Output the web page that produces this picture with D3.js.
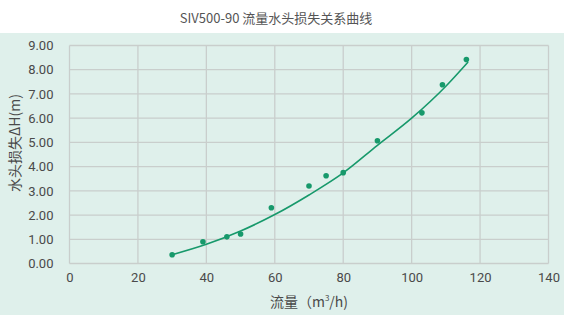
<!DOCTYPE html>
<html>
<head>
  <meta charset="utf-8">
  <script src="https://d3js.org/d3.v7.min.js"></script>
  <style>
    body { margin: 0; background: #ffffff; }
    svg { display: block; }
    .tick text { font-family: Roboto, "Noto Sans", sans-serif; font-size: 13px; fill: #4a4a4a; }
  </style>
</head>
<body>
  <svg id="canvas" width="564" height="315"></svg>
<script>
  // measured points (流量 m3/h, 水头损失 m)
  const flow = [30, 39, 46, 50, 59, 70, 75, 80, 90, 103, 109, 116];
  const headLoss = [0.36, 0.9, 1.1, 1.22, 2.3, 3.2, 3.62, 3.75, 5.07, 6.22, 7.38, 8.42];

  // trend curve
  const curveFlow = [30, 40, 50, 60, 70, 80, 90, 100, 110, 116.5];
  const curveHead = [0.36, 0.79, 1.34, 2.02, 2.83, 3.74, 4.88, 6.0, 7.32, 8.32];

  const xTicks = [0, 20, 40, 60, 80, 100, 120, 140];
  const yTicks = [0, 1, 2, 3, 4, 5, 6, 7, 8, 9];

  const svg = d3.select("svg");
  const green = "#17996b";
  const grid = "#c9cecc";

  svg.append("rect")
    .attr("x", 0).attr("y", 33)
    .attr("width", 564).attr("height", 282)
    .attr("fill", "#dff0eb");

  const x = d3.scaleLinear().domain([0, 140]).range([69.5, 548.5]);
  const y = d3.scaleLinear().domain([0, 9]).range([263.5, 45.5]);

  // grid
  svg.append("g")
    .selectAll("line.v")
    .data(xTicks)
    .join("line")
      .attr("x1", d => x(d)).attr("x2", d => x(d))
      .attr("y1", y(0)).attr("y2", y(9))
      .attr("stroke", grid).attr("stroke-width", 1.3);

  svg.append("g")
    .selectAll("line.h")
    .data(yTicks)
    .join("line")
      .attr("x1", x(0)).attr("x2", x(140))
      .attr("y1", d => y(d)).attr("y2", d => y(d))
      .attr("stroke", grid).attr("stroke-width", 1.3);

  // axes (labels only)
  const xAxis = svg.append("g")
    .attr("transform", `translate(0,${y(0) + 6})`)
    .call(d3.axisBottom(x).tickValues(xTicks).tickSize(0).tickPadding(3));
  xAxis.select(".domain").remove();

  const yAxis = svg.append("g")
    .attr("transform", `translate(${x(0) - 16},0)`)
    .call(d3.axisLeft(y).tickValues(yTicks).tickSize(0).tickPadding(0).tickFormat(d3.format(".2f")));
  yAxis.select(".domain").remove();

  // curve
  const curvePts = curveFlow.map((d, i) => [d, curveHead[i]]);
  svg.append("path")
    .datum(curvePts)
    .attr("fill", "none")
    .attr("stroke", green)
    .attr("stroke-width", 1.6)
    .attr("d", d3.line()
      .x(d => x(d[0]))
      .y(d => y(d[1]))
      .curve(d3.curveMonotoneX));

  // points
  svg.append("g")
    .selectAll("circle")
    .data(flow.map((d, i) => [d, headLoss[i]]))
    .join("circle")
      .attr("cx", d => x(d[0]))
      .attr("cy", d => y(d[1]))
      .attr("r", 2.8)
      .attr("fill", green);

  // titles
  svg.append("text")
    .attr("x", 276).attr("y", 23)
    .attr("text-anchor", "middle")
    .attr("font-family", "'Noto Sans CJK SC', sans-serif")
    .attr("font-size", 13)
    .attr("fill", "#555")
    .text("SIV500-90 流量水头损失关系曲线");

  svg.append("text")
    .attr("x", 309).attr("y", 307)
    .attr("text-anchor", "middle")
    .attr("font-family", "'Noto Sans CJK SC', sans-serif")
    .attr("font-size", 14)
    .attr("fill", "#4a4a4a")
    .html("流量（m<tspan dy='-6' font-size='8'>3</tspan><tspan dy='6'>/h)</tspan>");

  svg.append("text")
    .attr("transform", "translate(20,143) rotate(-90)")
    .attr("text-anchor", "middle")
    .attr("font-family", "'Noto Sans CJK SC', sans-serif")
    .attr("font-size", 14)
    .attr("fill", "#4a4a4a")
    .text("水头损失ΔH(m)");
</script>
</body>
</html>
